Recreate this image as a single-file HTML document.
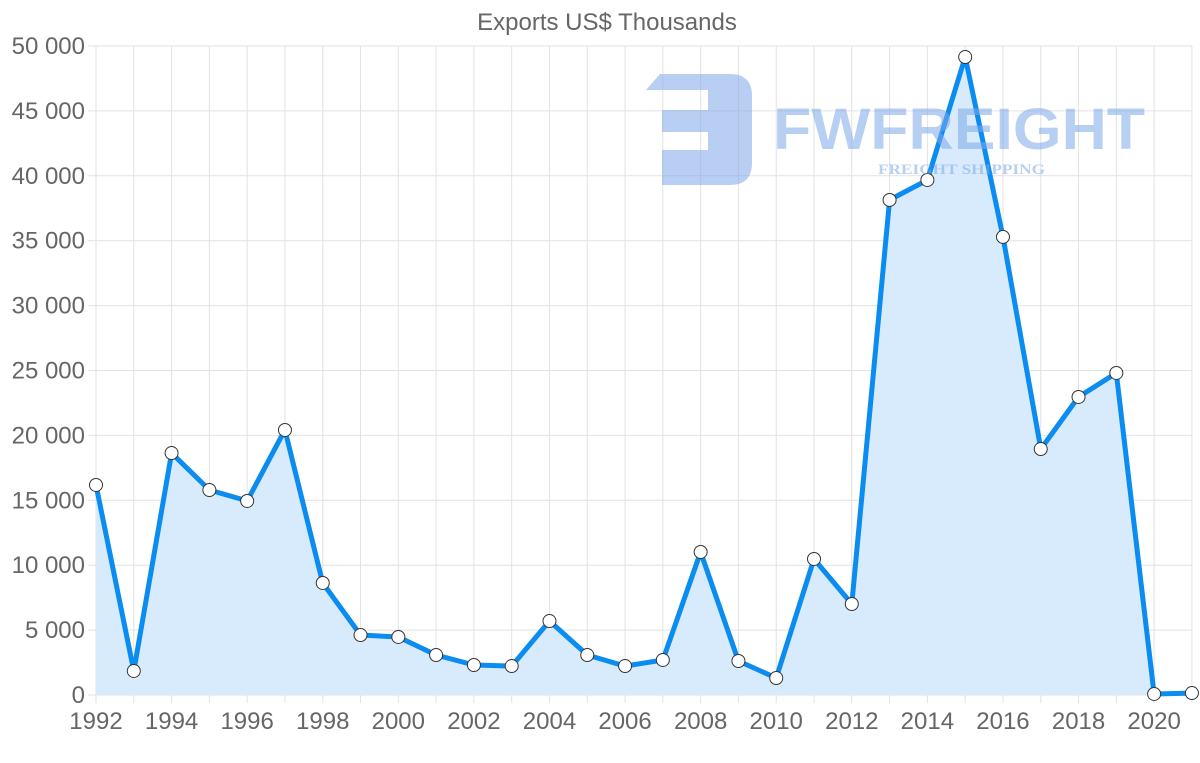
<!DOCTYPE html>
<html><head><meta charset="utf-8"><style>
html,body{margin:0;padding:0;background:#fff;}
svg{display:block;font-family:"Liberation Sans",sans-serif;}
</style></head><body>
<svg width="1200" height="763" viewBox="0 0 1200 763">
<text x="607" y="30" text-anchor="middle" font-size="24" fill="#666">Exports US$ Thousands</text>
<g id="grid" stroke="#e2e2e2" stroke-width="1"></g>
<g id="ylab" font-size="24" fill="#666" text-anchor="end"></g>
<g id="xlab" font-size="24" fill="#666" text-anchor="middle"></g>
<path id="area" fill="#d8ebfc" stroke="none"/>
<polyline id="line" fill="none" stroke="#0a8cf0" stroke-width="5" stroke-linejoin="round"/>
<g id="pts" fill="#fff" stroke="#333" stroke-width="1"></g>
<g opacity="0.55" fill="#7ea8ea">
<path d="M660,74 H730 Q752,74 752,96 V163 Q752,185 730,185 H662 V150 H708 V132 H662 V110 H708 V90 H646 Z"/>
<text x="773" y="149" font-size="58" font-weight="bold" textLength="372" lengthAdjust="spacingAndGlyphs">FWFREIGHT</text>
<text x="878" y="174" font-size="15" font-weight="bold" font-family="Liberation Serif,serif" textLength="167" lengthAdjust="spacingAndGlyphs">FREIGHT SHIPPING</text>
</g>
</svg>
<script>
const d=[16180,1850,18640,15790,14950,20420,8630,4620,4470,3080,2310,2230,5700,3080,2230,2700,11020,2620,1310,10480,7010,38140,39680,49150,35290,18950,22960,24810,80,150];
const X=i=>96+i*37.79, Y=v=>695-v*0.01298;
const ns="http://www.w3.org/2000/svg";
const mk=(p,t,a,txt)=>{const e=document.createElementNS(ns,t);for(const k in a)e.setAttribute(k,a[k]);if(txt!==undefined)e.textContent=txt;document.getElementById(p).appendChild(e);};
for(let i=0;i<30;i++)mk("grid","line",{x1:X(i),x2:X(i),y1:46,y2:703});
for(let v=0;v<=50000;v+=5000){const y=Y(v);mk("grid","line",{x1:88,x2:1192,y1:y,y2:y});
mk("ylab","text",{x:85,y:y+8},v===0?"0":(v/1000)+" 000");}
for(let yr=1992;yr<=2020;yr+=2)mk("xlab","text",{x:X(yr-1992),y:729},yr);
const pts=d.map((v,i)=>X(i).toFixed(1)+","+Y(v).toFixed(1));
document.getElementById("line").setAttribute("points",pts.join(" "));
document.getElementById("area").setAttribute("d","M"+X(0)+",695 L"+pts.join(" L")+" L"+X(29)+",695 Z");
d.forEach((v,i)=>mk("pts","circle",{cx:X(i),cy:Y(v),r:6.5}));
</script>
</body></html>
